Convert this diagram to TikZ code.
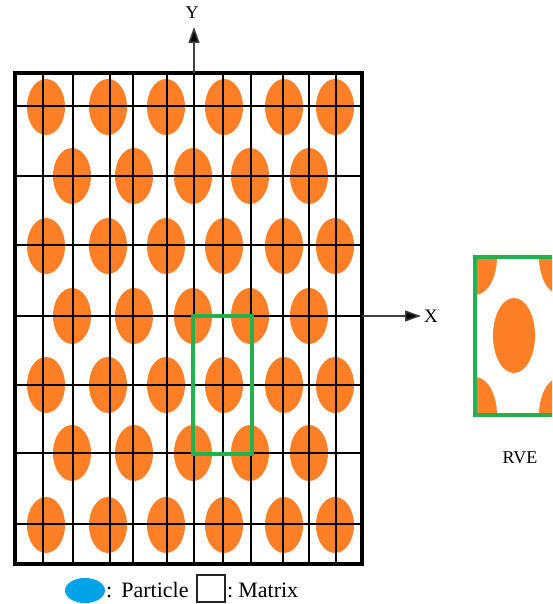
\documentclass[tikz,border=0pt]{standalone}
\usepackage{fontspec}
\setmainfont{Liberation Serif}
\usetikzlibrary{arrows.meta}
\definecolor{porange}{RGB}{255,127,39}
\definecolor{pgreen}{RGB}{34,177,76}
\definecolor{pblue}{RGB}{0,162,232}
\begin{document}
\begin{tikzpicture}[x=1pt,y=-1pt,
  particle/.style={fill=porange},
  gridline/.style={line width=1.2pt,black},
  framebox/.style={line width=4pt,black},
  rvebox/.style={line width=3.4pt,pgreen},
  axisarrow/.style={line width=1.5pt,black!75,-{Triangle[length=16pt,width=11pt,fill=black]}},
  labeltext/.style={inner sep=0pt,font=\fontsize{18}{20}\selectfont},
  legendtext/.style={inner sep=0pt,anchor=base west,font=\fontsize{22}{24}\selectfont}]
\useasboundingbox (0,0) rectangle (552,604);
% particles, rows A
\foreach \yy in {107,246,385,525}
  \foreach \xx in {46,108,166,224,284,335}
    \fill[particle] (\xx,\yy) ellipse [x radius=19, y radius=28];
% particles, rows B
\foreach \yy in {176,316,453}
  \foreach \xx in {72,134,193,250,309}
    \fill[particle] (\xx,\yy) ellipse [x radius=19, y radius=28];
% grid
\foreach \xx in {43,73,110,133,167,194,223,251,283,309,336}
  \draw[gridline] (\xx,73.5) -- (\xx,564);
\foreach \yy in {106,176,245,316,385,453,524}
  \draw[gridline] (14.5,\yy) -- (361.5,\yy);
% frame
\draw[framebox] (14.5,73.5) rectangle (361.5,564);
% selected cell
\draw[rvebox] (193,316) rectangle (252,454);
% axes
\coordinate (ytail) at (194,73.5);
\coordinate (yhead) at (194,27);
\draw[axisarrow] (ytail) -- (yhead);
\node[labeltext] (ylab) at (192,13) {Y};
\coordinate (xtail) at (361.5,316);
\coordinate (xhead) at (421,316);
\draw[axisarrow] (xtail) -- (xhead);
\node[labeltext,font=\fontsize{19}{21}\selectfont] (xlab) at (431,316) {X};
% RVE
\begin{scope}
  \clip (472,254) rectangle (552,418);
  \begin{scope}
    \clip (475,257) rectangle (561,415);
    \fill[particle] (514,335.5) ellipse [x radius=21, y radius=37.5];
    \foreach \cx/\cy in {475/257,475/415,561/257,561/415}
      \fill[particle] (\cx,\cy) ellipse [x radius=22, y radius=38];
  \end{scope}
  \draw[rvebox] (475,257) rectangle (561,415);
\end{scope}
\node[labeltext] (rvelab) at (520,458) {RVE};
% legend
\fill[pblue] (85,590.5) ellipse [x radius=20, y radius=12.5];
\node[legendtext] (ptext) at (106,597) {:\hspace{9pt}Particle};
\draw[line width=2pt,black!85] (197,575) rectangle (225,602);
\node[legendtext] (mtext) at (227,597) {:\hspace{5pt}Matrix};
\end{tikzpicture}
\end{document}
